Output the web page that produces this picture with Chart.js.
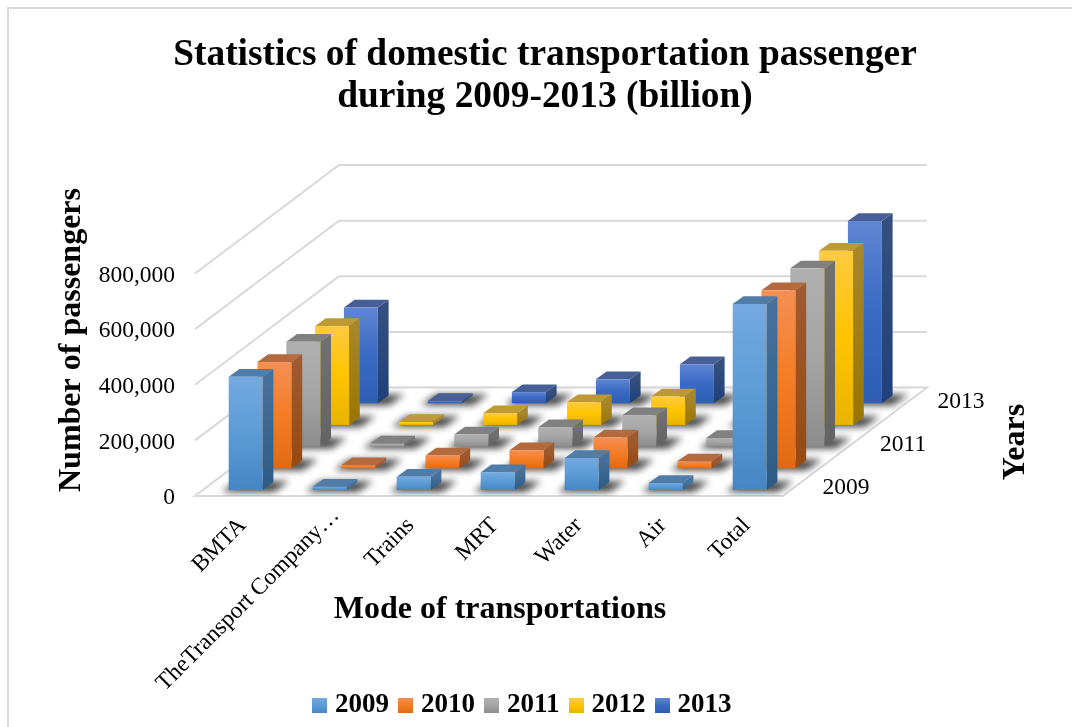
<!DOCTYPE html>
<html>
<head>
<meta charset="utf-8">
<title>Domestic transportation passengers</title>
<script src="https://cdn.jsdelivr.net/npm/chart.js@4/dist/chart.umd.min.js"></script>
<style>
  html, body { margin: 0; padding: 0; background: #fff; overflow: hidden; }
  canvas { display: block; }
</style>
</head>
<body>
<canvas id="grafico" width="1072" height="727"></canvas>
<script>
const categories = ["BMTA", "TheTransport Company…", "Trains", "MRT", "Water", "Air", "Total"];
const years = ["2009", "2010", "2011", "2012", "2013"];
const values2009 = [407000, 12000, 48000, 64000, 115000, 25000, 669000];
const values2010 = [382000, 11000, 46000, 65000, 111000, 25000, 640000];
const values2011 = [377000, 11000, 44000, 70000, 113000, 31000, 641000];
const values2012 = [356000, 11000, 42000, 82000, 102000, 30000, 626000];
const values2013 = [344000, 8000, 40000, 86000, 140000, 28000, 655000];
const allValues = [values2009, values2010, values2011, values2012, values2013];

// front gradient (3 stops), side gradient (2 stops), top face
const faces = [
  { front: ["#74a9e0", "#5b9bd5", "#4686c6"], side: ["#46719c", "#2c5c85"], top: "#507ca8" },
  { front: ["#f48f54", "#f47c24", "#e06a14"], side: ["#a05a30", "#964a10"], top: "#b56a3e" },
  { front: ["#b0b0b0", "#a5a5a5", "#8c8c8c"], side: ["#707070", "#636363"], top: "#808080" },
  { front: ["#ffca40", "#ffc400", "#e8b400"], side: ["#a8862a", "#9a7600"], top: "#bd9a33" },
  { front: ["#5f86d2", "#3a6ac4", "#2e5db4"], side: ["#35507f", "#20407c"], top: "#475e96" }
];

const serif = "'Liberation Serif', 'Times New Roman', serif";
const gridColor = "#d9d9d9";

// one step back in the depth direction
const rowDx = 28.8, rowDy = 21.7;
const barDepthX = 10.7, barDepthY = 7.7;
// the floor starts left of the chart area, the front row stands a bit inside it
const floorInset = 5.7, barShift = 3, frontY = 6;

function vgrad(ctx, y0, y1, stops) {
  const g = ctx.createLinearGradient(0, y0, 0, y1);
  stops.forEach((c, i) => g.addColorStop(i / (stops.length - 1), c));
  return g;
}

function poly(ctx, pts) {
  ctx.beginPath();
  pts.forEach((p, i) => i ? ctx.lineTo(p[0], p[1]) : ctx.moveTo(p[0], p[1]));
  ctx.closePath();
}

function label(ctx, txt, x, y, font, angle, align) {
  ctx.save();
  ctx.translate(x, y);
  ctx.rotate(angle || 0);
  ctx.font = font;
  ctx.fillStyle = "#000";
  ctx.textAlign = align || "center";
  ctx.textBaseline = "middle";
  ctx.fillText(txt, 0, 0);
  ctx.restore();
}

function swatch(stops) {
  const c = document.createElement("canvas");
  c.width = 15; c.height = 15;
  const x = c.getContext("2d");
  x.fillStyle = vgrad(x, 0, 15, stops);
  x.fillRect(0, 0, 15, 15);
  return c;
}

const bars3d = {
  id: "bars3d",
  beforeDraw(chart) {
    const ctx = chart.ctx;
    ctx.save();
    ctx.fillStyle = "#fff";
    ctx.fillRect(0, 0, chart.width, chart.height);
    ctx.strokeStyle = gridColor;
    ctx.lineWidth = 2;
    ctx.beginPath();
    ctx.moveTo(8, chart.height);
    ctx.lineTo(8, 8);
    ctx.lineTo(chart.width, 8);
    ctx.stroke();
    ctx.restore();
  },
  afterLayout(chart) {
    // title and legend are not on the same centre in the picture
    chart.titleBlock.left += 9;
    chart.titleBlock.right += 9;
    chart.legend.left -= 11;
    chart.legend.right -= 11;
    chart.legend.top += 2;
    chart.legend.bottom += 2;
    // the long rotated label runs past the axis box, keep it from being clipped
    const xs = chart.scales.x;
    xs.bottom = chart.height;
    const long = xs.getLabelItems()[1].options.translation;
    long[0] += 9;
    long[1] -= 10;
    // value labels sit a little under their grid lines
    chart.scales.y.getLabelItems().forEach(it => { it.options.translation[1] += 2; });
  },
  afterDatasetsDraw(chart) {
    const ctx = chart.ctx;
    const ys = chart.scales.y;
    const area = chart.chartArea;
    const rows = years.length;
    const floorL = area.left - floorInset;
    const floorR = area.right - floorInset;
    const bottom = ys.getPixelForValue(0);
    const backX = rows * rowDx, backY = rows * rowDy;

    ctx.save();
    // floor and walls
    const floor = [[floorL, bottom], [floorR, bottom], [floorR + backX, bottom - backY], [floorL + backX, bottom - backY]];
    ctx.strokeStyle = gridColor;
    ctx.lineWidth = 2;
    ys.ticks.forEach(t => {
      const py = ys.getPixelForValue(t.value);
      ctx.beginPath();
      ctx.moveTo(floorL, py);
      ctx.lineTo(floorL + backX, py - backY);
      ctx.lineTo(floorR + backX, py - backY);
      ctx.stroke();
    });
    poly(ctx, floor);
    ctx.fillStyle = "#fff";
    ctx.fill();
    ctx.stroke();

    // shadows on the floor
    ctx.save();
    poly(ctx, floor);
    ctx.clip();
    ctx.filter = "blur(3.5px)";
    ctx.fillStyle = "rgba(25,25,25,0.8)";
    for (let r = rows - 1; r >= 0; r--) {
      const ox = barShift + r * rowDx, oy = frontY + r * rowDy;
      chart.getDatasetMeta(r).data.forEach(el => {
        const l = el.x - el.width / 2 + ox, rt = el.x + el.width / 2 + ox, b = bottom - oy;
        poly(ctx, [[l - 7, b + 2], [rt + 11, b + 2], [rt + barDepthX + 16, b - barDepthY - 1], [l + barDepthX - 3, b - barDepthY - 1]]);
        ctx.fill();
      });
    }
    ctx.restore();

    // bars, back row first
    for (let r = rows - 1; r >= 0; r--) {
      const f = faces[r];
      const ox = barShift + r * rowDx, oy = frontY + r * rowDy;
      chart.getDatasetMeta(r).data.forEach(el => {
        const w = el.width;
        const l = el.x - w / 2 + ox, rt = l + w;
        const t = el.y - oy, b = el.base - oy;
        ctx.fillStyle = vgrad(ctx, t, b, f.side);
        poly(ctx, [[rt, t], [rt + barDepthX, t - barDepthY], [rt + barDepthX, b - barDepthY], [rt, b]]);
        ctx.fill();
        ctx.fillStyle = f.top;
        poly(ctx, [[l, t], [l + barDepthX, t - barDepthY], [rt + barDepthX, t - barDepthY], [rt, t]]);
        ctx.fill();
        ctx.fillStyle = vgrad(ctx, t, b, f.front);
        ctx.fillRect(l, t, w, b - t);
      });
    }

    // year labels along the depth axis (every second one)
    years.forEach((y, r) => {
      if (r % 2) return;
      label(ctx, y, floorR + (r + 0.5) * rowDx + 25, bottom - (r + 0.5) * rowDy + 3, "23.5px " + serif, 0, "left");
    });

    // axis titles
    const titleFont = "bold 32px " + serif;
    label(ctx, "Number of passengers", 72, 340, titleFont, -Math.PI / 2);
    label(ctx, "Mode of transportations", 500, 610, titleFont);
    label(ctx, "Years", 1016, 442, titleFont, -Math.PI / 2);
    ctx.restore();
  }
};

new Chart(document.getElementById("grafico"), {
  type: "bar",
  data: {
    labels: categories,
    datasets: years.map((y, i) => ({
      label: y,
      data: allValues[i],
      backgroundColor: "rgba(0,0,0,0)",
      borderWidth: 0,
      barThickness: 34,
      grouped: false
    }))
  },
  plugins: [bars3d],
  options: {
    responsive: false,
    animation: false,
    events: [],
    layout: { padding: 0 },
    scales: {
      x: {
        grid: { display: false },
        border: { display: false },
        ticks: {
          autoSkip: false,
          minRotation: 45,
          maxRotation: 45,
          padding: 8,
          color: "#000",
          font: { family: serif, size: 23.5 }
        },
        afterFit: s => { s.height = 178.5; }
      },
      y: {
        min: 0,
        max: 800000,
        grid: { display: false },
        border: { display: false },
        ticks: {
          stepSize: 200000,
          padding: 17.7,
          color: "#000",
          font: { family: serif, size: 23.5 },
          callback: v => v.toLocaleString("en-US")
        },
        afterFit: s => { s.width = 200.7; }
      },
      // empty axis that keeps the space for the depth of the floor
      depth: {
        position: "right",
        display: true,
        grid: { display: false },
        border: { display: false },
        ticks: { display: false },
        afterFit: s => { s.width = 283.3; }
      }
    },
    plugins: {
      tooltip: { enabled: false },
      title: {
        display: true,
        text: ["Statistics of domestic transportation passenger", "during 2009-2013 (billion)"],
        color: "#000",
        font: { family: serif, size: 37.4, weight: "bold", lineHeight: 1.13 },
        padding: { top: 34, bottom: 155 }
      },
      legend: {
        position: "bottom",
        labels: {
          usePointStyle: true,
          pointStyleWidth: 3,
          padding: 15.5,
          color: "#000",
          font: { family: serif, size: 27, weight: "bold" },
          generateLabels: () => years.map((y, i) => ({
            text: y,
            datasetIndex: i,
            fontColor: "#000",
            pointStyle: swatch(faces[i].front),
            lineWidth: 0
          }))
        }
      }
    }
  }
});
</script>
</body>
</html>
